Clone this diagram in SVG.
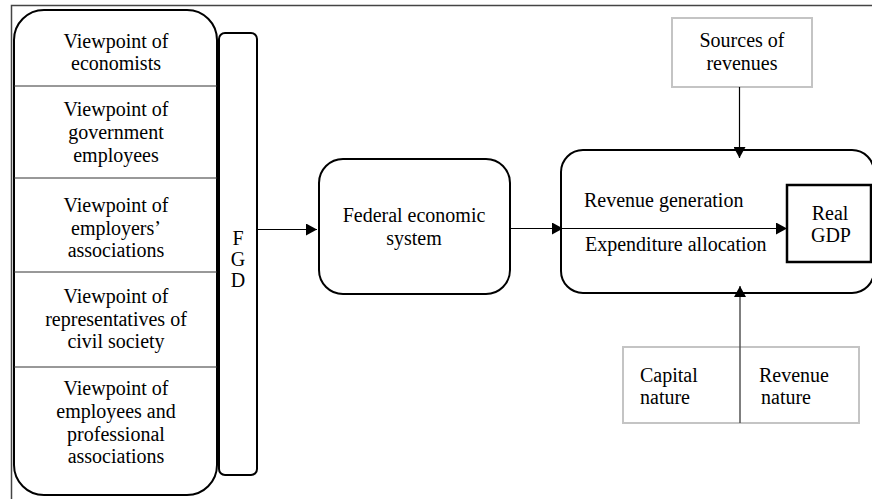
<svg xmlns="http://www.w3.org/2000/svg" width="872" height="499" viewBox="0 0 872 499">
<defs>
<style>
text{font-family:"Liberation Serif","Times New Roman",serif;font-size:20px;fill:#000}
.c{text-anchor:middle}
.box{fill:#fff;stroke:#000;stroke-width:2}
.gbox{fill:#fff;stroke:#c4c4c4;stroke-width:2}
.sep{stroke:#333;stroke-width:1}
.conn{stroke:#000;stroke-width:1.2;fill:none}
</style>
<marker id="ah" markerWidth="12" markerHeight="12" refX="11" refY="6" orient="auto" markerUnits="userSpaceOnUse">
<path d="M0,0 L11,6 L0,12 Z" fill="#000"/>
</marker>
</defs>
<rect width="872" height="499" fill="#fff"/>
<g id="frame">
<path d="M11.5,499 L11.5,5.5 L872,5.5" fill="none" stroke="#444" stroke-width="1.5"/>
</g>
<g id="viewpoints">
<rect class="box" x="14" y="10" width="203" height="485" rx="30"/>
<line class="sep" x1="14" y1="86" x2="217" y2="86"/>
<line class="sep" x1="14" y1="178" x2="217" y2="178"/>
<line class="sep" x1="14" y1="272" x2="217" y2="272"/>
<line class="sep" x1="14" y1="367" x2="217" y2="367"/>
<text class="c" x="116" y="48">Viewpoint of</text>
<text class="c" x="116" y="70">economists</text>
<text class="c" x="116" y="116">Viewpoint of</text>
<text class="c" x="116" y="139">government</text>
<text class="c" x="116" y="162">employees</text>
<text class="c" x="116" y="212">Viewpoint of</text>
<text class="c" x="116" y="235">employers’</text>
<text class="c" x="116" y="257">associations</text>
<text class="c" x="116" y="303">Viewpoint of</text>
<text class="c" x="116" y="326">representatives of</text>
<text class="c" x="116" y="348">civil society</text>
<text class="c" x="116" y="395">Viewpoint of</text>
<text class="c" x="116" y="418">employees and</text>
<text class="c" x="116" y="441">professional</text>
<text class="c" x="116" y="463">associations</text>
</g>
<g id="fgd">
<rect class="box" x="219" y="33" width="38" height="442" rx="6"/>
<text class="c" x="238" y="245">F</text>
<text class="c" x="238" y="266">G</text>
<text class="c" x="238" y="287">D</text>
</g>
<g id="federal">
<rect class="box" x="319" y="159" width="191" height="135" rx="24"/>
<text class="c" x="414" y="222">Federal economic</text>
<text class="c" x="414" y="245">system</text>
</g>
<g id="process">
<rect class="box" x="561" y="150" width="313" height="143" rx="22"/>
<text x="584" y="207">Revenue generation</text>
<text x="585" y="251">Expenditure allocation</text>
</g>
<g id="realgdp">
<rect x="787" y="185" width="84" height="77" fill="#fff" stroke="#000" stroke-width="2.5"/>
<text class="c" x="830" y="220">Real</text>
<text class="c" x="831" y="242">GDP</text>
</g>
<g id="sources">
<rect class="gbox" x="672" y="18" width="140" height="69"/>
<text class="c" x="742" y="47">Sources of</text>
<text class="c" x="742" y="70">revenues</text>
</g>
<g id="nature">
<rect class="gbox" x="623" y="347" width="236" height="76"/>
<text x="640" y="382">Capital</text>
<text x="640" y="404">nature</text>
<text x="759" y="382">Revenue</text>
<text x="761" y="404">nature</text>
</g>
<g id="connectors">
<line class="conn" x1="257" y1="229.5" x2="317" y2="229.5" marker-end="url(#ah)"/>
<line class="conn" x1="510" y1="228.5" x2="563" y2="228.5" marker-end="url(#ah)"/>
<line class="conn" x1="563" y1="228.5" x2="787" y2="228.5" marker-end="url(#ah)"/>
<line class="conn" x1="739.5" y1="87" x2="739.5" y2="158" marker-end="url(#ah)"/>
<line x1="740" y1="423" x2="740" y2="286" stroke="#555" stroke-width="1.5" marker-end="url(#ah)"/>
</g>
</svg>
